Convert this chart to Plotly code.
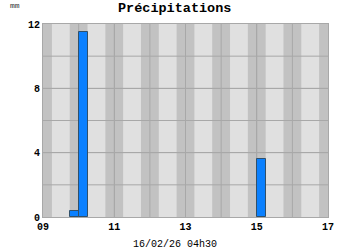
import plotly.graph_objects as go

# Data
bar_start_hours = [9.75, 10.0, 15.0]
rain_mm = [0.4, 11.5, 3.6]
x_tick_vals = [9, 11, 13, 15, 17]
x_tick_text = ["09", "11", "13", "15", "17"]
y_tick_vals = [0, 4, 8, 12]
y_tick_text = ["0", "4", "8", "12"]
title_text = "Précipitations"
unit_text = "mm"
x_label = "16/02/26 04h30"

X_MIN, X_MAX = 9, 17
Y_MIN, Y_MAX = 0, 12
MONO = "Liberation Mono, Courier New, monospace"

fig = go.Figure()
fig.add_trace(go.Bar(
    x=bar_start_hours, y=rain_mm, width=0.25, offset=0,
    marker=dict(color="#0a80ff", line=dict(color="#30506a", width=1)),
))

# darker bands around each hour
shapes = []
for h in range(X_MIN, X_MAX + 1):
    shapes.append(dict(type="rect", xref="x", yref="paper",
                       x0=max(h - 0.25, X_MIN), x1=min(h + 0.25, X_MAX), y0=0, y1=1,
                       fillcolor="#c2c2c2", line=dict(width=0), layer="below"))

fig.update_layout(
    width=350, height=250,
    margin=dict(l=43, r=22, t=24, b=33),
    paper_bgcolor="white", plot_bgcolor="#e0e0e0",
    showlegend=False, bargap=0,
    shapes=shapes,
    font=dict(family=MONO, color="#000000"),
    annotations=[
        dict(text="<b>" + title_text + "</b>", xref="paper", yref="paper", x=0.5, y=1,
             xshift=-11, yshift=16, xanchor="center", yanchor="middle", showarrow=False,
             font=dict(family=MONO, size=13.5, color="#000")),
        dict(text=unit_text, xref="paper", yref="paper", x=0, y=1, xshift=-35, yshift=19,
             xanchor="left", yanchor="middle", showarrow=False,
             font=dict(family=MONO, size=8, color="#333")),
        dict(text=x_label, xref="paper", yref="paper", x=0.5, y=0, xshift=-11, yshift=-27,
             xanchor="center", yanchor="middle", showarrow=False,
             font=dict(family=MONO, size=10, color="#000")),
    ],
)
fig.update_xaxes(range=[X_MIN, X_MAX], tickvals=x_tick_vals,
                 ticktext=["<b>" + t + "</b>" for t in x_tick_text],
                 showgrid=True, gridcolor="#a8a8a8", gridwidth=1,
                 tickmode="array", zeroline=False,
                 showline=True, linecolor="#a8a8a8", mirror=True,
                 ticks="", tickfont=dict(family=MONO, size=10, color="#000"))
fig.update_yaxes(range=[Y_MIN, Y_MAX], tickvals=y_tick_vals,
                 ticktext=["<b>" + t + "</b>" for t in y_tick_text],
                 showgrid=True, gridcolor="#a8a8a8", zeroline=False,
                 showline=True, linecolor="#a8a8a8", mirror=True,
                 ticks="", tickfont=dict(family=MONO, size=10, color="#000"))

# extra grid lines every hour and every 2 mm
for h in range(X_MIN + 1, X_MAX):
    fig.add_shape(type="line", xref="x", yref="paper", x0=h, x1=h, y0=0, y1=1,
                  line=dict(color="#a8a8a8", width=1), layer="below")
for v in range(Y_MIN + 2, Y_MAX, 2):
    fig.add_shape(type="line", xref="paper", yref="y", x0=0, x1=1, y0=v, y1=v,
                  line=dict(color="#a8a8a8", width=1), layer="below")

fig.write_html("out.html")
